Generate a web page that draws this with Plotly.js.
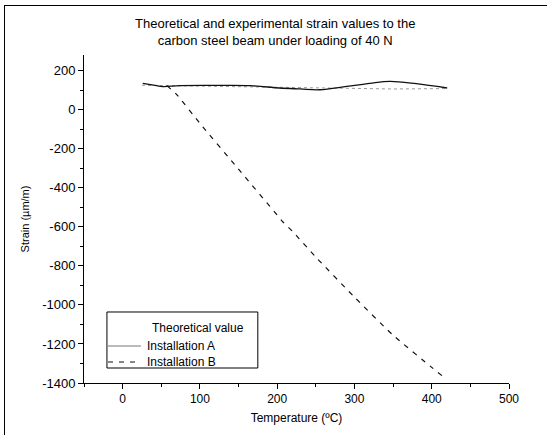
<!DOCTYPE html>
<html><head><meta charset="utf-8">
<script src="https://cdn.plot.ly/plotly-3.0.1.min.js"></script>
<style>
html,body{margin:0;padding:0;background:#fff;}
#frame{position:absolute;left:4px;top:5px;width:543px;height:430px;border-left:1px solid #000;border-top:1px solid #000;box-sizing:border-box;}
#chart{position:absolute;left:0;top:0;width:547px;height:435px;}
</style>
</head><body>
<div id="chart"></div>
<div id="frame"></div>
<script>
const theoX = [25, 135, 250, 350, 420];
const theoY = [125, 118, 110, 106, 108];
const instAX = [26, 40, 52, 74, 120, 165, 203, 230, 255, 290, 320, 346, 380, 420];
const instAY = [135, 126, 118, 123, 124, 123, 111, 106, 102, 119, 135, 145, 133, 111];
const instBX = [57, 70, 100, 150, 200, 207, 220, 250, 300, 350, 400, 415];
const instBY = [123, 77, -70, -305, -540, -573, -624, -755, -960, -1155, -1320, -1368];
const xTicks = [0, 100, 200, 300, 400, 500];
const yTicks = [-1400, -1200, -1000, -800, -600, -400, -200, 0, 200];
const yTickText = ['-1400', '-1200', '-1000', '-800', '-600', '-400', '-200', '0', '200'];
const legendNames = ['Theoretical value', 'Installation A', 'Installation B'];

const traces = [
  {x: theoX, y: theoY, mode: 'lines', name: legendNames[0],
   line: {color: '#999', width: 1, dash: 'dot'}},
  {x: instAX, y: instAY, mode: 'lines', name: legendNames[1],
   line: {color: '#111', width: 1.3, shape: 'spline'}},
  {x: instBX, y: instBY, mode: 'lines', name: legendNames[2],
   line: {color: '#111', width: 1.2, dash: '5px,6px', shape: 'spline', smoothing: 0.6}}
];

const layout = {
  width: 547, height: 435,
  margin: {l: 84, r: 38, t: 55, b: 52},
  paper_bgcolor: '#fff', plot_bgcolor: '#fff',
  font: {family: 'Liberation Sans, Arial, sans-serif', color: '#000', size: 12},
  showlegend: false,
  xaxis: {range: [-50, 500], tickvals: xTicks,
          ticks: 'outside', ticklen: 5, tickcolor: '#000',
          showline: true, linecolor: '#000', linewidth: 1,
          showgrid: false, zeroline: false,
          minor: {tickvals: [-50, 50, 150, 250, 350, 450], ticks: 'outside', ticklen: 3, tickcolor: '#000'},
          tickfont: {size: 12},
          title: {text: 'Temperature (ºC)', font: {size: 12}, standoff: 8}},
  yaxis: {range: [-1400, 280], tickvals: yTicks, ticktext: yTickText,
          ticks: 'outside', ticklen: 5, tickcolor: '#000',
          showline: true, linecolor: '#000', linewidth: 1,
          showgrid: false, zeroline: false,
          minor: {tickvals: [-1300,-1100,-900,-700,-500,-300,-100,100], ticks: 'outside', ticklen: 3, tickcolor: '#000'},
          tickfont: {size: 13},
          title: {text: 'Strain (µm/m)', font: {size: 11}, standoff: 10}},
  annotations: [
    {xref: 'paper', yref: 'paper', x: 0.449, y: 1.0716, xanchor: 'center', yanchor: 'middle',
     showarrow: false, align: 'center', font: {size: 13},
     text: 'Theoretical and experimental strain values to the<br>carbon steel beam under loading of 40 N'},
    {xref: 'paper', yref: 'paper', x: 0.155, y: 0.1677, xanchor: 'left', yanchor: 'middle',
     showarrow: false, text: legendNames[0], font: {size: 12}},
    {xref: 'paper', yref: 'paper', x: 0.1435, y: 0.1128, xanchor: 'left', yanchor: 'middle',
     showarrow: false, text: legendNames[1], font: {size: 12}},
    {xref: 'paper', yref: 'paper', x: 0.1435, y: 0.064, xanchor: 'left', yanchor: 'middle',
     showarrow: false, text: legendNames[2], font: {size: 12}}
  ],
  shapes: [
    {type: 'rect', xref: 'paper', yref: 'paper', x0: 0.054, x1: 0.409, y0: 0.0457, y1: 0.2165,
     line: {color: '#000', width: 1}, fillcolor: '#fff', layer: 'above'},
    {type: 'line', xref: 'paper', yref: 'paper', x0: 0.0565, x1: 0.134, y0: 0.1128, y1: 0.1128,
     line: {color: '#777', width: 1}},
    {type: 'line', xref: 'paper', yref: 'paper', x0: 0.0565, x1: 0.134, y0: 0.064, y1: 0.064,
     line: {color: '#111', width: 1.2, dash: '5px,6px'}}
  ]
};
Plotly.newPlot('chart', traces, layout, {displayModeBar: false, staticPlot: true});
</script>
</body></html>
